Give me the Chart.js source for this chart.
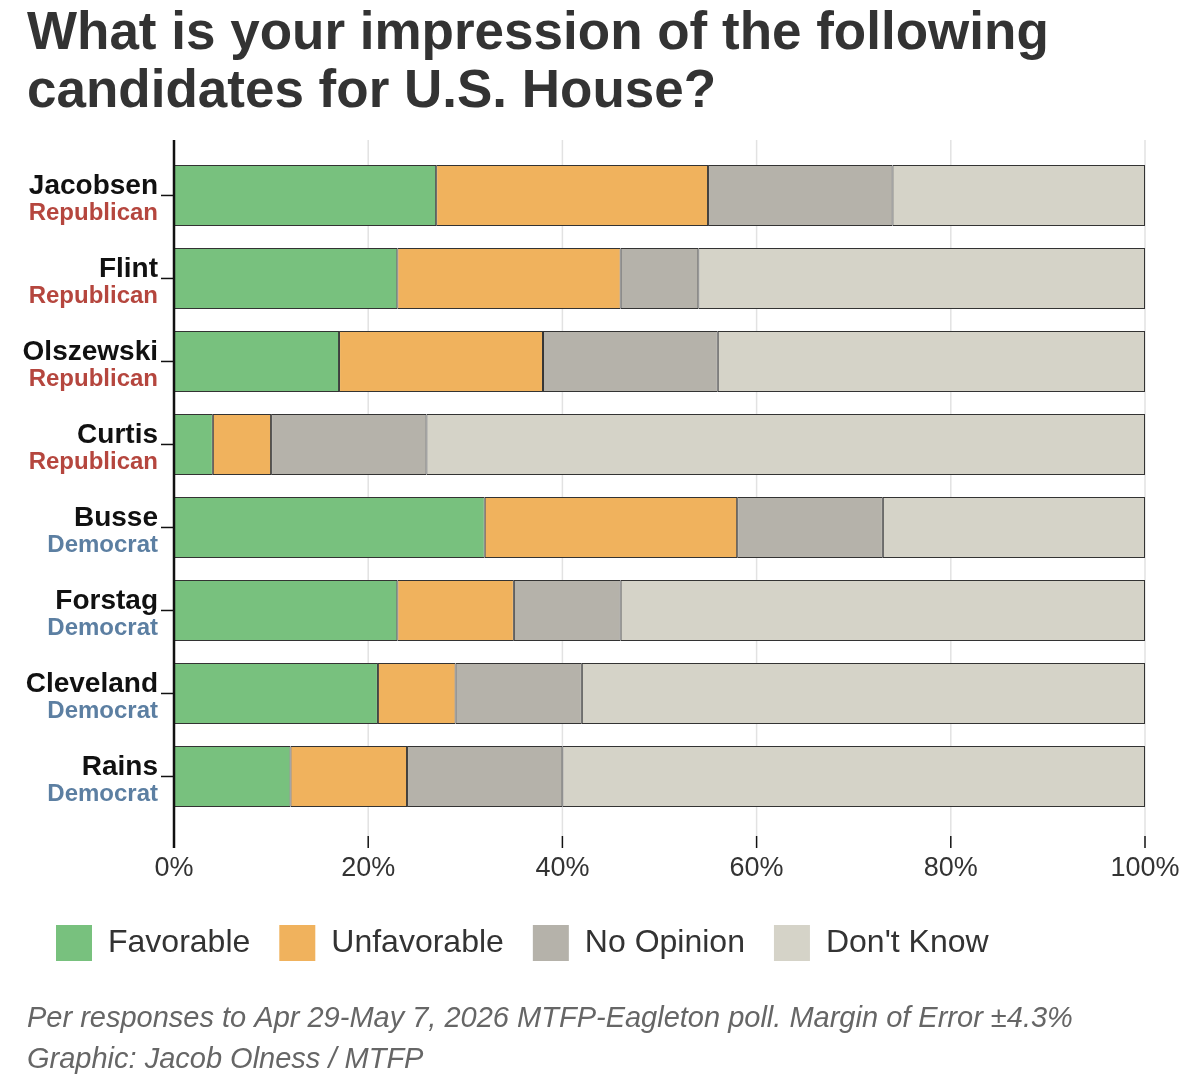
<!DOCTYPE html>
<html lang="en">
<head>
  <meta charset="UTF-8">
  <title>Impression of U.S. House candidates</title>
  <script src="https://cdn.jsdelivr.net/npm/chart.js"></script>
  <style>
    body {
      margin: 0;
      background: #fff;
    }
    #wrap {
      width: 1200px;
      height: 1080px;
      position: relative;
    }
  </style>
</head>
<body>
  <div id="wrap"><canvas id="impChart"></canvas></div>

  <script>
    const candidates = ['Jacobsen', 'Flint', 'Olszewski', 'Curtis', 'Busse', 'Forstag', 'Cleveland', 'Rains'];
    const parties = ['Republican', 'Republican', 'Republican', 'Republican', 'Democrat', 'Democrat', 'Democrat', 'Democrat'];
    const favorable = [27, 23, 17, 4, 32, 23, 21, 12];
    const unfavorable = [28, 23, 21, 6, 26, 12, 8, 12];
    const noOpinion = [19, 8, 18, 16, 15, 11, 13, 16];
    const dontKnow = [26, 46, 44, 74, 27, 54, 58, 60];
    const xTicks = [0, 20, 40, 60, 80, 100];

    const partyColor = { Republican: '#b5463e', Democrat: '#5c7fa2' };
    const FONT = '"Liberation Sans", Arial, sans-serif';

    // grid, black axis line, small tick marks and two-colour y labels
    const axisDecor = {
      id: 'axisDecor',
      beforeDatasetsDraw(chart) {
        const c = chart.ctx;
        const xs = chart.scales.x;
        c.save();
        c.strokeStyle = '#e2e2e2';
        c.lineWidth = 1.5;
        xTicks.slice(1).forEach(v => {
          const px = xs.getPixelForValue(v);
          c.beginPath();
          c.moveTo(px, 140);
          c.lineTo(px, 836);
          c.stroke();
        });
        c.restore();
      },
      afterDraw(chart) {
        const c = chart.ctx;
        const xs = chart.scales.x;
        const ys = chart.scales.y;
        const x0 = xs.getPixelForValue(0);
        c.save();
        c.strokeStyle = '#111';
        c.lineWidth = 2.5;
        c.beginPath();
        c.moveTo(x0, 140);
        c.lineTo(x0, 848);
        c.stroke();

        c.lineWidth = 1.5;
        xTicks.forEach(v => {
          const px = xs.getPixelForValue(v);
          c.beginPath();
          c.moveTo(px, 836);
          c.lineTo(px, 848);
          c.stroke();
        });

        c.textAlign = 'right';
        c.textBaseline = 'alphabetic';
        candidates.forEach((name, i) => {
          const py = ys.getPixelForValue(i);
          c.beginPath();
          c.moveTo(x0 - 13, py);
          c.lineTo(x0, py);
          c.stroke();
          c.fillStyle = '#111';
          c.font = 'bold 28px ' + FONT;
          c.fillText(name, x0 - 16, py - 1);
          c.fillStyle = partyColor[parties[i]];
          c.font = 'bold 24px ' + FONT;
          c.fillText(parties[i], x0 - 16, py + 25);
        });
        c.restore();
      }
    };

    const mk = (label, data, color) => ({
      label, data,
      backgroundColor: color,
      borderColor: '#333',
      borderWidth: 1,
      borderSkipped: false,
      barPercentage: 0.735,
      categoryPercentage: 1
    });

    const ctx = document.getElementById('impChart').getContext('2d');
    new Chart(ctx, {
      type: 'bar',
      data: {
        labels: candidates,
        datasets: [
          mk('Favorable', favorable, '#78c17e'),
          mk('Unfavorable', unfavorable, '#f0b25d'),
          mk('No Opinion', noOpinion, '#b5b2aa'),
          mk("Don't Know", dontKnow, '#d5d3c8')
        ]
      },
      options: {
        indexAxis: 'y',
        responsive: true,
        maintainAspectRatio: false,
        animation: false,
        layout: { padding: { left: 27, right: 55, top: 0, bottom: 0 } },
        scales: {
          x: {
            stacked: true,
            min: 0,
            max: 100,
            afterFit: s => { s.height = 78; s.paddingLeft = 0; s.paddingRight = 30; },
            afterBuildTicks: s => { s.ticks = xTicks.map(v => ({ value: v })); },
            ticks: {
              padding: 34,
              color: '#333',
              font: { family: FONT, size: 27 },
              callback: v => v + '%'
            },
            grid: { display: false, drawTicks: false },
            border: { display: false }
          },
          y: {
            stacked: true,
            afterFit: s => { s.width = 147; },
            ticks: { display: false },
            grid: { display: false },
            border: { display: false }
          }
        },
        plugins: {
          title: {
            display: true,
            text: ['What is your impression of the following', 'candidates for U.S. House?'],
            align: 'start',
            color: '#333',
            font: { family: FONT, size: 53, weight: 'bold', lineHeight: 1.094 },
            padding: { top: 5, bottom: 33 }
          },
          legend: {
            position: 'bottom',
            align: 'start',
            labels: {
              boxWidth: 36,
              boxHeight: 36,
              padding: 29,
              color: '#333',
              font: { family: FONT, size: 32 },
              generateLabels: chart => Chart.defaults.plugins.legend.labels.generateLabels(chart)
                .map(it => ({ ...it, strokeStyle: it.fillStyle, lineWidth: 0 }))
            }
          },
          subtitle: {
            display: true,
            position: 'bottom',
            align: 'start',
            text: ['Per responses to Apr 29-May 7, 2026 MTFP-Eagleton poll. Margin of Error ±4.3%', 'Graphic: Jacob Olness / MTFP'],
            color: '#666',
            font: { family: FONT, size: 29, style: 'italic', lineHeight: 1.414 },
            padding: { top: 27, bottom: 0 }
          },
          tooltip: { enabled: false }
        }
      },
      plugins: [axisDecor]
    });
  </script>
</body>
</html>
